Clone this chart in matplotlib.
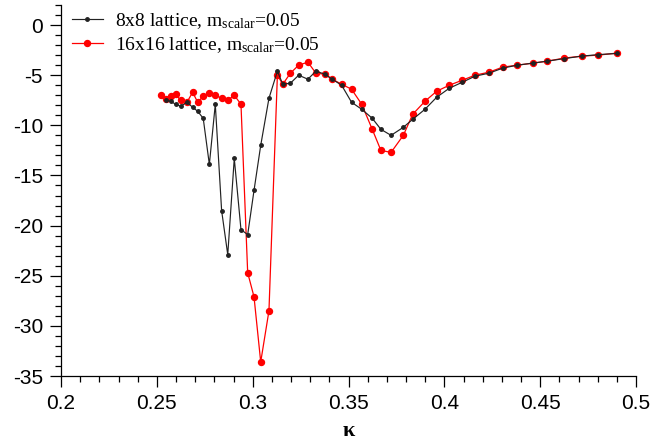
import matplotlib
matplotlib.use("Agg")
import matplotlib.pyplot as plt
from matplotlib.ticker import MultipleLocator

plt.rcParams['axes.unicode_minus'] = False
plt.rcParams['mathtext.fontset'] = 'custom'
plt.rcParams['mathtext.rm'] = 'Liberation Serif'
plt.rcParams['mathtext.it'] = 'Liberation Serif:italic'

kappa_red = [0.2522, 0.2548, 0.2572, 0.2598, 0.2624, 0.2657, 0.2687, 0.2713, 0.2742, 0.2774,
             0.2805, 0.2838, 0.2870, 0.2904, 0.2939, 0.2974, 0.3007, 0.3042, 0.3085, 0.3129,
             0.3157, 0.3197, 0.3240, 0.3288, 0.3330, 0.3377, 0.3415, 0.3464, 0.3516, 0.3569,
             0.3624, 0.3669, 0.3722, 0.3786, 0.3835, 0.3899, 0.3960, 0.4026, 0.4094, 0.4160,
             0.4233, 0.4304, 0.4381, 0.4461, 0.4537, 0.4624, 0.4716, 0.4803, 0.4899]
val_red = [-7.0, -7.4, -7.1, -6.9, -7.5, -7.7, -6.7, -7.7, -7.1, -6.8,
           -7.0, -7.3, -7.5, -7.0, -7.9, -24.7, -27.1, -33.6, -28.5, -5.0,
           -5.9, -4.8, -4.0, -3.7, -4.8, -4.9, -5.4, -5.9, -6.4, -7.9,
           -10.4, -12.5, -12.7, -11.0, -8.9, -7.6, -6.6, -6.0, -5.5, -5.0,
           -4.7, -4.2, -4.0, -3.8, -3.6, -3.3, -3.1, -3.0, -2.8]

kappa_black = [0.2548, 0.2572, 0.2598, 0.2624, 0.2657, 0.2687, 0.2713, 0.2742, 0.2774,
               0.2805, 0.2838, 0.2870, 0.2904, 0.2939, 0.2974, 0.3007, 0.3042, 0.3085, 0.3129,
               0.3157, 0.3197, 0.3240, 0.3288, 0.3330, 0.3377, 0.3415, 0.3464, 0.3516, 0.3569,
               0.3624, 0.3669, 0.3722, 0.3786, 0.3835, 0.3899, 0.3960, 0.4026, 0.4094, 0.4160,
               0.4233, 0.4304, 0.4381, 0.4461, 0.4537, 0.4624, 0.4716, 0.4803, 0.4899]
val_black = [-7.5, -7.6, -7.9, -8.1, -7.7, -8.2, -8.6, -9.3, -13.9,
             -7.9, -18.5, -22.9, -13.3, -20.4, -20.9, -16.5, -12.0, -7.3, -4.6,
             -5.9, -5.8, -5.0, -5.4, -4.6, -4.9, -5.4, -6.0, -7.7, -8.4,
             -9.3, -10.4, -11.0, -10.2, -9.4, -8.4, -7.2, -6.3, -5.7, -5.1,
             -4.8, -4.3, -4.0, -3.8, -3.6, -3.35, -3.1, -2.95, -2.83]

label_black = r"8x8 lattice, m$_{\mathrm{scalar}}$=0.05"
label_red = r"16x16 lattice, m$_{\mathrm{scalar}}$=0.05"
xticks = [0.2, 0.25, 0.3, 0.35, 0.4, 0.45, 0.5]
xticklabels = ["0.2", "0.25", "0.3", "0.35", "0.4", "0.45", "0.5"]
yticks = [0, -5, -10, -15, -20, -25, -30, -35]

fig = plt.figure(figsize=(6.52, 4.40), dpi=100)
ax = fig.add_axes([61/652, 1 - 376/440, (636-61)/652, (376-5)/440])

ax.plot(kappa_black, val_black, color='#222222', lw=0.85, marker='o', ms=2.5,
        label=label_black, zorder=3)
ax.plot(kappa_red, val_red, color='#ff0000', lw=0.9, marker='o', ms=4.3,
        label=label_red, zorder=2)

ax.set_xlim(0.2, 0.5)
ax.set_ylim(-35, 2)
ax.set_xticks(xticks)
ax.set_xticklabels(xticklabels)
ax.set_yticks(yticks)
ax.xaxis.set_minor_locator(MultipleLocator(0.01))
ax.yaxis.set_minor_locator(MultipleLocator(1))

for s in ['top', 'right']:
    ax.spines[s].set_visible(False)
for s in ['left', 'bottom']:
    ax.spines[s].set_linewidth(0.9)

ax.tick_params(which='major', direction='out', length=8, width=0.9, pad=5,
               labelsize=15)
ax.tick_params(which='minor', direction='out', length=4.5, width=0.9)
for lab in ax.get_xticklabels() + ax.get_yticklabels():
    lab.set_fontfamily('Liberation Sans')

ax.set_xlabel("κ", fontsize=16, fontweight='bold', family='Liberation Serif', labelpad=6)

leg = ax.legend(loc='upper left', bbox_to_anchor=(0.0, 1.012), frameon=False,
                prop={'family': 'Liberation Serif', 'size': 14},
                handlelength=1.6, handletextpad=0.65, labelspacing=0.2,
                borderaxespad=0.15)

fig.savefig("out.png", dpi=100)
